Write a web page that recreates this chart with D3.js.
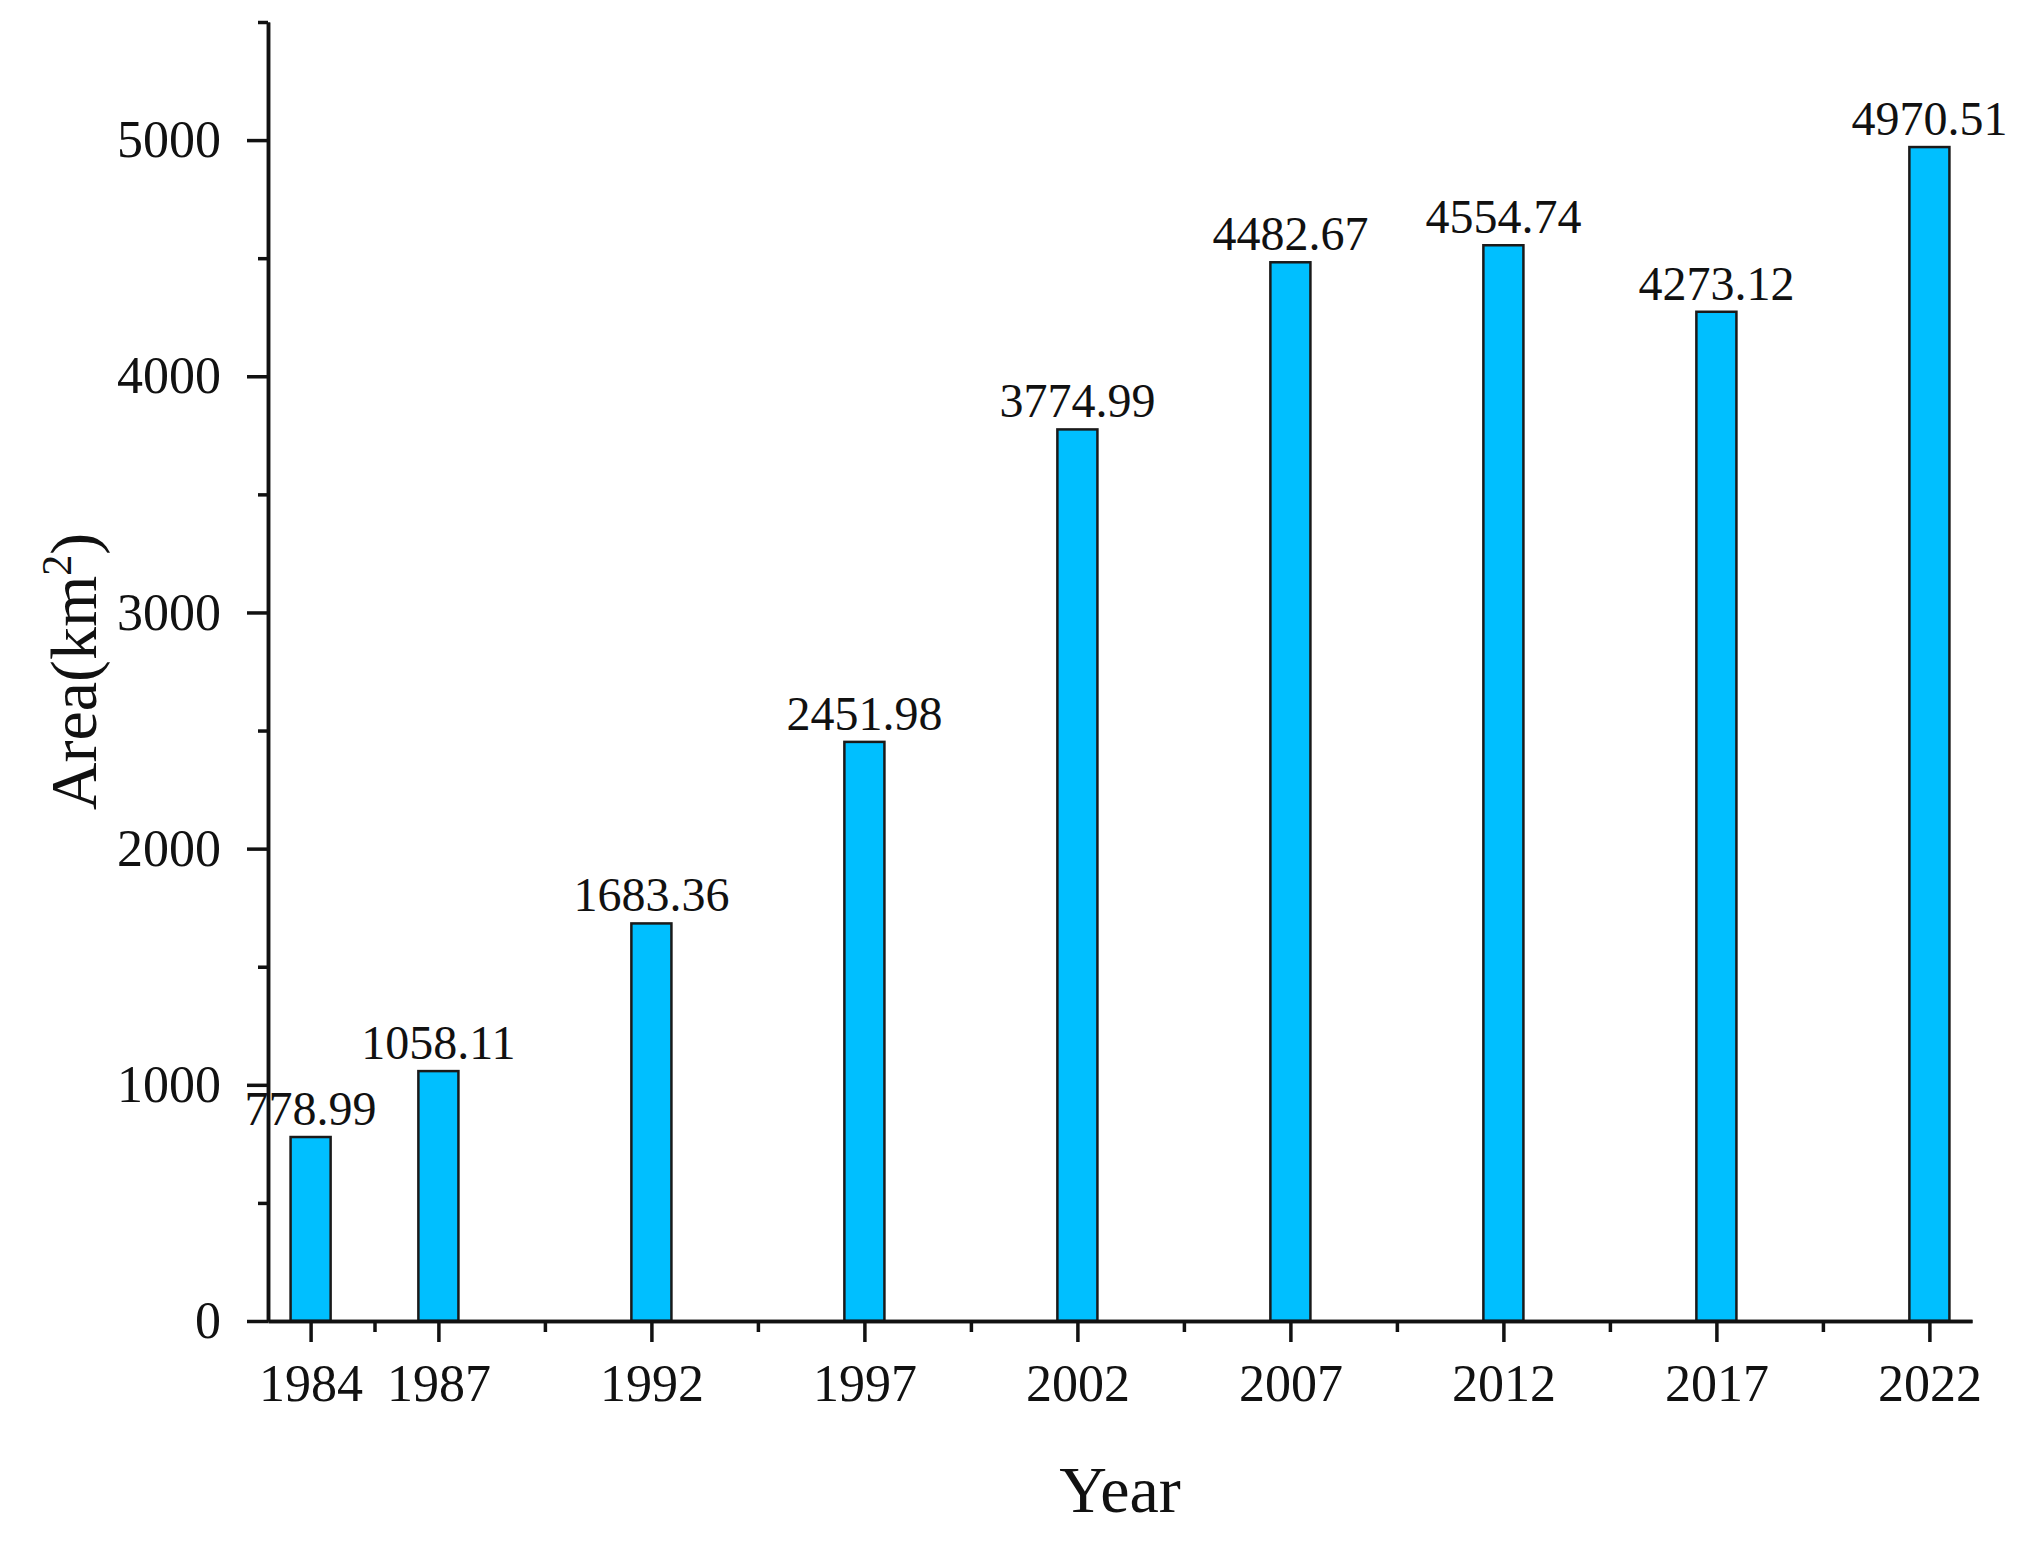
<!DOCTYPE html>
<html>
<head>
<meta charset="utf-8">
<script src="https://cdn.jsdelivr.net/npm/d3@7"></script>
<style>
  body { margin: 0; background: #fff; }
  text { font-family: "Liberation Serif", "Times New Roman", serif; fill: #111; }
</style>
</head>
<body>
<div class="chart"></div>
<script>
var years = [1984, 1987, 1992, 1997, 2002, 2007, 2012, 2017, 2022];
var areas = [778.99, 1058.11, 1683.36, 2451.98, 3774.99, 4482.67, 4554.74, 4273.12, 4970.51];
var areaLabels = ["778.99", "1058.11", "1683.36", "2451.98", "3774.99", "4482.67", "4554.74", "4273.12", "4970.51"];
var yMajor = [0, 1000, 2000, 3000, 4000, 5000];
var yMinor = [500, 1500, 2500, 3500, 4500, 5500];

var w = 2021, h = 1548;
var plotLeft = 268, plotRight = 1972, plotTop = 22, plotBottom = 1321;

var svg = d3.select(".chart").append("svg")
  .attr("width", w)
  .attr("height", h);

var x = d3.scaleLinear().domain([1983, 2023]).range([plotLeft, plotRight]);
var y = d3.scaleLinear().domain([0, 5500]).range([plotBottom, plotTop]);

// minor x ticks sit half way between the years
var xMinor = [];
for (var i = 1; i < years.length; i++) xMinor.push((years[i - 1] + years[i]) / 2);

var data = years.map(function(d, i) { return {year: d, val: areas[i], label: areaLabels[i]}; });

svg.selectAll("rect.bar")
  .data(data)
  .enter()
  .append("rect")
  .attr("class", "bar")
  .attr("x", function(d) { return x(d.year - 0.47); })
  .attr("width", function(d) { return x(d.year + 0.47) - x(d.year - 0.47); })
  .attr("y", function(d) { return y(d.val); })
  .attr("height", function(d) { return y(0) - y(d.val); })
  .attr("fill", "#00BFFF")
  .attr("stroke", "#1a1a1a")
  .attr("stroke-width", 2.5);

svg.selectAll("text.val")
  .data(data)
  .enter()
  .append("text")
  .attr("class", "val")
  .attr("x", function(d) { return x(d.year); })
  .attr("y", function(d) { return y(d.val) - 12; })
  .attr("text-anchor", "middle")
  .style("font-size", "48px")
  .text(function(d) { return d.label; });

function styleAxis(g) {
  g.selectAll("path, line").attr("stroke", "#111").attr("stroke-width", 3.5);
  g.selectAll("text").style("font-size", "52px").attr("fill", "#111");
}

svg.append("g")
  .attr("transform", "translate(0," + plotBottom + ")")
  .call(d3.axisBottom(x).tickValues(xMinor).tickSize(11).tickSizeOuter(0).tickFormat(""))
  .call(styleAxis);

svg.append("g")
  .attr("transform", "translate(0," + plotBottom + ")")
  .call(d3.axisBottom(x).tickValues(years).tickSize(21).tickSizeOuter(0).tickPadding(22).tickFormat(d3.format("d")))
  .call(styleAxis);

svg.append("g")
  .attr("transform", "translate(" + plotLeft + ",0)")
  .call(d3.axisLeft(y).tickValues(yMinor).tickSize(10).tickSizeOuter(0).tickFormat(""))
  .call(styleAxis);

svg.append("g")
  .attr("transform", "translate(" + plotLeft + ",0)")
  .call(d3.axisLeft(y).tickValues(yMajor).tickSize(21).tickSizeOuter(0).tickPadding(26).tickFormat(d3.format("d")))
  .call(styleAxis);

svg.append("text")
  .attr("x", (plotLeft + plotRight) / 2)
  .attr("y", 1512)
  .attr("text-anchor", "middle")
  .style("font-size", "66px")
  .text("Year");

var yt = svg.append("text")
  .attr("transform", "translate(96," + ((plotTop + plotBottom) / 2) + ") rotate(-90)")
  .attr("text-anchor", "middle")
  .style("font-size", "66px");
yt.append("tspan").text("Area(km");
yt.append("tspan").attr("dy", -25).style("font-size", "42px").text("2");
yt.append("tspan").attr("dy", 25).text(")");
</script>
</body>
</html>
